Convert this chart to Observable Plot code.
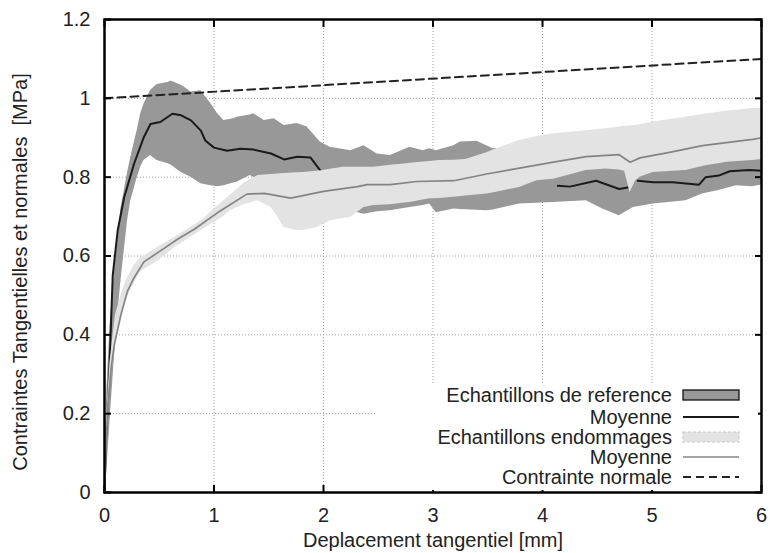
<!DOCTYPE html>
<html>
<head>
<meta charset="utf-8">
<script src="https://cdn.jsdelivr.net/npm/d3@7"></script>
<script src="https://cdn.jsdelivr.net/npm/@observablehq/plot@0.6"></script>
<style>
  html, body { margin: 0; padding: 0; background: white; }
  #wrap { position: relative; width: 770px; height: 553px; font-family: "Liberation Sans", Arial, Helvetica, sans-serif; }
  #wrap svg { position: absolute; left: 0; top: 0; }
  #legend { position: absolute; left: 376px; top: 383px; width: 382px; height: 107px; background: white; }
</style>
</head>
<body>
<div id="wrap"></div>
<script>
// ---------- data ----------
const xTicks = [0, 1, 2, 3, 4, 5, 6];
const yTicks = [0, 0.2, 0.4, 0.6, 0.8, 1, 1.2];
const gridXVals = [1, 2, 3, 4, 5];
const gridYVals = [0.2, 0.4, 0.6, 0.8, 1.0];

const xTitle = "Deplacement tangentiel [mm]";
const yTitle = "Contraintes Tangentielles et normales\u00a0\u00a0[MPa]";

const legendLabels = ["Echantillons de reference", "Moyenne", "Echantillons endommages", "Moyenne", "Contrainte normale"];

// Reference samples (dark band): min / max envelope
const darkBandX = [0, 0.02, 0.05, 0.09, 0.12, 0.15, 0.21, 0.24, 0.30, 0.33, 0.36, 0.42, 0.48, 0.58, 0.61, 0.70, 0.73, 0.79, 0.88, 0.97, 1.03, 1.09, 1.18, 1.21, 1.33, 1.36, 1.46, 1.55, 1.64, 1.76, 1.85, 1.97, 2.06, 2.25, 2.37, 2.49, 2.61, 2.79, 2.91, 2.97, 3.03, 3.19, 3.25, 3.40, 3.49, 3.55, 3.79, 4.10, 4.40, 4.55, 4.70, 4.83, 5.01, 5.31, 5.46, 5.61, 5.77, 5.92, 6.0];
const darkBandHi = [0, 0.25, 0.42, 0.56, 0.64, 0.72, 0.81, 0.85, 0.92, 0.96, 0.985, 1.02, 1.035, 1.04, 1.044, 1.033, 1.028, 1.016, 1.019, 0.987, 0.962, 0.944, 0.948, 0.952, 0.958, 0.961, 0.944, 0.948, 0.931, 0.936, 0.927, 0.889, 0.876, 0.867, 0.880, 0.859, 0.855, 0.876, 0.867, 0.872, 0.867, 0.880, 0.889, 0.891, 0.880, 0.872, 0.875, 0.870, 0.870, 0.865, 0.860, 0.860, 0.865, 0.870, 0.875, 0.880, 0.885, 0.890, 0.890];
const darkBandLo = [0, 0.05, 0.18, 0.34, 0.45, 0.536, 0.689, 0.74, 0.80, 0.825, 0.842, 0.855, 0.842, 0.834, 0.83, 0.812, 0.808, 0.80, 0.783, 0.778, 0.776, 0.778, 0.785, 0.787, 0.804, 0.80, 0.79, 0.78, 0.77, 0.76, 0.75, 0.74, 0.73, 0.715, 0.706, 0.712, 0.715, 0.723, 0.728, 0.732, 0.710, 0.719, 0.718, 0.716, 0.715, 0.717, 0.732, 0.736, 0.740, 0.719, 0.702, 0.723, 0.732, 0.740, 0.757, 0.766, 0.778, 0.776, 0.78];

// Reference samples mean (black line, with a gap)
const darkMeanX = [0, 0.014, 0.044, 0.075, 0.12, 0.18, 0.27, 0.36, 0.42, 0.51, 0.62, 0.70, 0.79, 0.88, 0.92, 1.00, 1.12, 1.24, 1.36, 1.52, 1.64, 1.76, 1.88, 1.97, 3.0, 4.14, 4.25, 4.49, 4.70, 4.78, 4.80, 4.87, 5.01, 5.19, 5.43, 5.49, 5.61, 5.71, 5.89, 6.0];
const darkMeanY = [0, 0.137, 0.307, 0.55, 0.664, 0.749, 0.834, 0.902, 0.935, 0.940, 0.961, 0.957, 0.944, 0.918, 0.893, 0.875, 0.867, 0.872, 0.870, 0.860, 0.845, 0.852, 0.850, 0.817, NaN, 0.778, 0.776, 0.791, 0.770, 0.774, NaN, 0.791, 0.787, 0.787, 0.781, 0.800, 0.804, 0.815, 0.818, 0.816];

// Damaged samples (light band): min / max envelope
const lightBandX = [0, 0.02, 0.05, 0.1, 0.15, 0.2, 0.27, 0.33, 0.36, 0.42, 0.5, 0.64, 0.88, 1.09, 1.15, 1.27, 1.40, 1.52, 1.58, 1.64, 1.76, 1.82, 1.94, 2.00, 2.06, 2.18, 2.25, 2.37, 2.46, 2.61, 2.76, 2.79, 2.97, 3.06, 3.19, 3.3, 3.49, 3.58, 3.79, 3.95, 4.10, 4.40, 4.58, 4.70, 4.75, 4.80, 4.85, 4.89, 5.01, 5.31, 5.49, 5.61, 5.68, 5.92, 6.0];
const lightBandLo = [0, 0.12, 0.26, 0.38, 0.44, 0.49, 0.53, 0.56, 0.565, 0.575, 0.59, 0.621, 0.664, 0.70, 0.715, 0.73, 0.740, 0.723, 0.70, 0.672, 0.664, 0.665, 0.672, 0.68, 0.689, 0.695, 0.698, 0.723, 0.728, 0.73, 0.735, 0.736, 0.745, 0.746, 0.749, 0.752, 0.757, 0.762, 0.774, 0.791, 0.795, 0.817, 0.821, 0.818, 0.815, 0.761, 0.79, 0.80, 0.812, 0.817, 0.829, 0.834, 0.838, 0.842, 0.845];
const lightBandHi = [0, 0.2, 0.33, 0.45, 0.5, 0.54, 0.575, 0.595, 0.60, 0.61, 0.625, 0.647, 0.689, 0.740, 0.755, 0.783, 0.804, 0.807, 0.808, 0.809, 0.811, 0.812, 0.815, 0.817, 0.82, 0.825, 0.825, 0.825, 0.825, 0.83, 0.834, 0.835, 0.84, 0.842, 0.843, 0.845, 0.862, 0.872, 0.893, 0.903, 0.910, 0.918, 0.923, 0.927, 0.929, 0.930, 0.932, 0.933, 0.940, 0.952, 0.960, 0.965, 0.967, 0.974, 0.975];

// Damaged samples mean (grey line)
const grayMeanX = [0, 0.005, 0.03, 0.06, 0.09, 0.15, 0.21, 0.27, 0.36, 0.51, 0.67, 0.82, 1.06, 1.30, 1.46, 1.70, 2.00, 2.31, 2.40, 2.61, 2.85, 3.19, 3.49, 3.79, 4.10, 4.40, 4.70, 4.80, 4.89, 5.16, 5.46, 5.77, 5.92, 6.0];
const grayMeanY = [0, 0.05, 0.22, 0.315, 0.375, 0.451, 0.511, 0.545, 0.585, 0.613, 0.643, 0.668, 0.715, 0.757, 0.759, 0.747, 0.764, 0.776, 0.781, 0.781, 0.789, 0.791, 0.808, 0.823, 0.838, 0.852, 0.857, 0.838, 0.849, 0.863, 0.880, 0.891, 0.896, 0.900];

// Normal stress (dashed)
const normalX = [0, 6];
const normalY = [1.0, 1.1];

// ---------- build tables ----------
const darkBand = darkBandX.map((x, i) => ({x, lo: darkBandLo[i], hi: darkBandHi[i]}));
const lightBand = lightBandX.map((x, i) => ({x, lo: lightBandLo[i], hi: lightBandHi[i]}));
const darkMean = darkMeanX.map((x, i) => ({x, y: darkMeanY[i]}));
const grayMean = grayMeanX.map((x, i) => ({x, y: grayMeanY[i]}));
const normal = normalX.map((x, i) => ({x, y: normalY[i]}));

const FONT = "'Liberation Sans', Arial, Helvetica, sans-serif";
const fmt = d => String(d);
const tickOpts = {tickSize: -7, tickFormat: () => "", label: null, strokeWidth: 2, stroke: "#000"};

const chart = Plot.plot({
  width: 770,
  height: 553,
  marginLeft: 104,
  marginRight: 9,
  marginTop: 19,
  marginBottom: 61,
  x: {domain: [0, 6]},
  y: {domain: [0, 1.2]},
  style: {fontFamily: FONT, fontSize: "20px", color: "#222", background: "white", overflow: "visible"},
  marks: [
    Plot.gridX(gridXVals, {stroke: "#a0a0a0", strokeOpacity: 1, strokeDasharray: "1,2", strokeWidth: 1}),
    Plot.gridY(gridYVals, {stroke: "#a0a0a0", strokeOpacity: 1, strokeDasharray: "1,2", strokeWidth: 1}),
    Plot.areaY(darkBand, {x: "x", y1: "lo", y2: "hi", fill: "#989898", curve: "linear"}),
    Plot.line(darkMean, {x: "x", y: "y", stroke: "#1a1a1a", strokeWidth: 2}),
    Plot.areaY(lightBand, {x: "x", y1: "lo", y2: "hi", fill: "#e3e3e3", curve: "linear"}),
    Plot.line(grayMean, {x: "x", y: "y", stroke: "#848484", strokeWidth: 1.7}),
    Plot.line(normal, {x: "x", y: "y", stroke: "#222", strokeWidth: 2, strokeDasharray: "8,5"}),
    // inward ticks on all four sides
    Plot.axisX(xTicks, {anchor: "bottom", ...tickOpts}),
    Plot.axisX(xTicks, {anchor: "top", ...tickOpts}),
    Plot.axisY(yTicks, {anchor: "left", ...tickOpts}),
    Plot.axisY(yTicks, {anchor: "right", ...tickOpts}),
    // tick labels
    Plot.axisX(xTicks, {anchor: "bottom", tickSize: 0, tickPadding: 15, tickFormat: fmt, label: null, fill: "#222"}),
    Plot.axisY(yTicks, {anchor: "left", tickSize: 0, tickPadding: 14, tickFormat: fmt, label: null, fill: "#222"}),
    Plot.frame({stroke: "#000", strokeWidth: 2.5}),
    // axis titles
    Plot.text([xTitle], {frameAnchor: "bottom", dy: 48, lineAnchor: "middle", textAnchor: "middle", text: d => d, fill: "#222", fontSize: 20}),
    Plot.text([yTitle], {frameAnchor: "left", dx: -84, dy: 16, rotate: -90, lineAnchor: "middle", textAnchor: "middle", text: d => d, fill: "#222", fontSize: 20})
  ]
});

const wrap = document.getElementById("wrap");
wrap.appendChild(chart);

// ---------- legend (white box, bottom right, inside the frame) ----------
const leg = document.createElement("div");
leg.id = "legend";
wrap.appendChild(leg);
const L = d3.select(leg).append("svg").attr("width", 382).attr("height", 107)
  .style("font-family", FONT).style("font-size", "20px");
const rowY = [12, 34, 54, 74, 94];
const textRight = 296;
const sw0 = 307, sw1 = 363;
legendLabels.forEach((lab, i) => {
  L.append("text").attr("x", textRight).attr("y", rowY[i]).attr("dy", "0.35em")
    .attr("text-anchor", "end").attr("fill", "#222").text(lab);
});
L.append("rect").attr("x", sw0).attr("y", rowY[0] - 5).attr("width", sw1 - sw0).attr("height", 10)
  .attr("fill", "#989898").attr("stroke", "#111").attr("stroke-width", 1.3);
L.append("line").attr("x1", sw0).attr("x2", sw1).attr("y1", rowY[1]).attr("y2", rowY[1])
  .attr("stroke", "#1a1a1a").attr("stroke-width", 2);
L.append("rect").attr("x", sw0).attr("y", rowY[2] - 5).attr("width", sw1 - sw0).attr("height", 10)
  .attr("fill", "#e3e3e3").attr("stroke", "#c8c8c8").attr("stroke-width", 1.2).attr("stroke-dasharray", "3,2");
L.append("line").attr("x1", sw0).attr("x2", sw1).attr("y1", rowY[3]).attr("y2", rowY[3])
  .attr("stroke", "#848484").attr("stroke-width", 1.7);
L.append("line").attr("x1", sw0).attr("x2", sw1).attr("y1", rowY[4]).attr("y2", rowY[4])
  .attr("stroke", "#222").attr("stroke-width", 2).attr("stroke-dasharray", "8,5");
</script>
</body>
</html>
